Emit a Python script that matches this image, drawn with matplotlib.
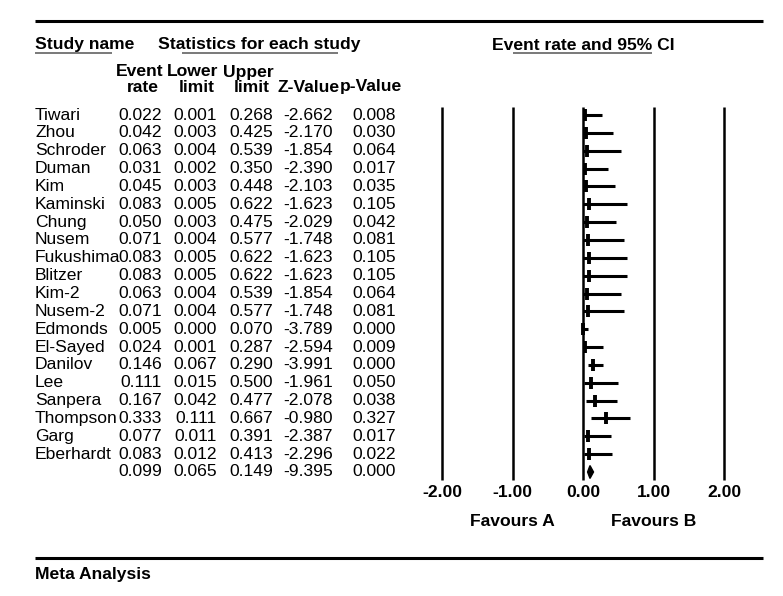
import matplotlib
matplotlib.use("Agg")
import matplotlib.pyplot as plt
from matplotlib.lines import Line2D
from matplotlib.patches import Polygon
from matplotlib.transforms import blended_transform_factory

plt.rcParams['font.family'] = ['Liberation Sans', 'DejaVu Sans']

studies = ["Tiwari", "Zhou", "Schroder", "Duman", "Kim", "Kaminski", "Chung", "Nusem",
           "Fukushima", "Blitzer", "Kim-2", "Nusem-2", "Edmonds", "El-Sayed", "Danilov",
           "Lee", "Sanpera", "Thompson", "Garg", "Eberhardt"]
event_rate = [0.022, 0.042, 0.063, 0.031, 0.045, 0.083, 0.050, 0.071, 0.083, 0.083,
              0.063, 0.071, 0.005, 0.024, 0.146, 0.111, 0.167, 0.333, 0.077, 0.083]
lower = [0.001, 0.003, 0.004, 0.002, 0.003, 0.005, 0.003, 0.004, 0.005, 0.005,
         0.004, 0.004, 0.000, 0.001, 0.067, 0.015, 0.042, 0.111, 0.011, 0.012]
upper = [0.268, 0.425, 0.539, 0.350, 0.448, 0.622, 0.475, 0.577, 0.622, 0.622,
         0.539, 0.577, 0.070, 0.287, 0.290, 0.500, 0.477, 0.667, 0.391, 0.413]
z_value = ["-2.662", "-2.170", "-1.854", "-2.390", "-2.103", "-1.623", "-2.029", "-1.748",
           "-1.623", "-1.623", "-1.854", "-1.748", "-3.789", "-2.594", "-3.991", "-1.961",
           "-2.078", "-0.980", "-2.387", "-2.296"]
p_value = ["0.008", "0.030", "0.064", "0.017", "0.035", "0.105", "0.042", "0.081",
           "0.105", "0.105", "0.064", "0.081", "0.000", "0.009", "0.000", "0.050",
           "0.038", "0.327", "0.017", "0.022"]
summary = {"rate": 0.099, "lower": 0.065, "upper": 0.149, "z": "-9.395", "p": "0.000"}
xticks = [-2, -1, 0, 1, 2]
xticklabels = ["-2.00", "-1.00", "0.00", "1.00", "2.00"]

W, H = 783, 596
fig = plt.figure(figsize=(W / 100, H / 100), dpi=100)
FS = 12.6

def fx(px):
    return px / W

def fy(py):
    return 1 - py / H

# forest axes
unit = 70.5
x0px = 583.0
xl, xr = -2.5, 2.5
ax_left = x0px + xl * unit
ax_w = (xr - xl) * unit
top_px, bot_px = 105, 485
row0, rowstep = 115.0, 17.85
ax = fig.add_axes([fx(ax_left), fy(bot_px), ax_w / W, (bot_px - top_px) / H])
ax.set_xlim(xl, xr)
ax.set_ylim((bot_px - row0) / rowstep, (top_px - row0) / rowstep)
for s in ax.spines.values():
    s.set_visible(False)
ax.set_yticks([])
ax.set_xticks(xticks)
ax.set_xticklabels(xticklabels, fontsize=FS, fontweight='bold')
ax.tick_params(axis='x', length=0, pad=0)

ax.vlines(xticks, (107 - row0) / rowstep, (480 - row0) / rowstep, color='black', lw=1.8)

rows = list(range(len(studies)))
ax.hlines(rows, lower, upper, color='black', lw=2.2)
ax.plot(event_rate, rows, ls='none', marker='|', ms=8.5, mew=2.8, color='black')

srow = len(studies)
dh = 0.36
diamond = Polygon([(summary["lower"], srow), (summary["rate"], srow - dh),
                   (summary["upper"], srow), (summary["rate"], srow + dh)],
                  closed=True, facecolor='black', edgecolor='black', lw=1)
ax.add_patch(diamond)

# table text
tr = blended_transform_factory(fig.transFigure, ax.transData)
col_right = [162, 217, 273, 333, 396]
for i, name in enumerate(studies):
    fig.text(fx(35), i, name, transform=tr, ha='left', va='center', fontsize=FS)
    vals = [f"{event_rate[i]:.3f}", f"{lower[i]:.3f}", f"{upper[i]:.3f}", z_value[i], p_value[i]]
    for cx, v in zip(col_right, vals):
        fig.text(fx(cx), i, v, transform=tr, ha='right', va='center', fontsize=FS)
svals = [f"{summary['rate']:.3f}", f"{summary['lower']:.3f}", f"{summary['upper']:.3f}",
         summary["z"], summary["p"]]
for cx, v in zip(col_right, svals):
    fig.text(fx(cx), srow, v, transform=tr, ha='right', va='center', fontsize=FS)

# headers
fig.text(fx(35), fy(45), "Study name", ha='left', va='center', fontsize=FS, fontweight='bold')
fig.text(fx(158), fy(45), "Statistics for each study", ha='left', va='center', fontsize=FS,
         fontweight='bold')
trx = blended_transform_factory(ax.transData, fig.transFigure)
fig.text(0, fy(45), "Event rate and 95% CI", transform=trx, ha='center', va='center',
         fontsize=FS, fontweight='bold')
fig.text(fx(140), fy(72), "Event", ha='center', va='center', fontsize=FS, fontweight='bold')
fig.text(fx(143), fy(87), "rate", ha='center', va='center', fontsize=FS, fontweight='bold')
fig.text(fx(193), fy(72), "Lower", ha='center', va='center', fontsize=FS, fontweight='bold')
fig.text(fx(197), fy(87), "limit", ha='center', va='center', fontsize=FS, fontweight='bold')
fig.text(fx(248), fy(72), "Upper", ha='center', va='center', fontsize=FS, fontweight='bold')
fig.text(fx(252), fy(87), "limit", ha='center', va='center', fontsize=FS, fontweight='bold')
fig.text(fx(278), fy(87), "Z-Value", ha='left', va='center', fontsize=FS, fontweight='bold')
fig.text(fx(402), fy(87), "p-Value", ha='right', va='center', fontsize=FS, fontweight='bold')

fig.text(-1, fy(521), "Favours A", transform=trx, ha='center', va='center', fontsize=FS,
         fontweight='bold')
fig.text(1, fy(521), "Favours B", transform=trx, ha='center', va='center', fontsize=FS,
         fontweight='bold')
fig.text(fx(35), fy(574), "Meta Analysis", ha='left', va='center', fontsize=FS,
         fontweight='bold')

# rules and underlines
def hline_px(x1, x2, y, lw, color='black'):
    fig.add_artist(Line2D([fx(x1), fx(x2)], [fy(y), fy(y)], transform=fig.transFigure,
                          color=color, lw=lw, solid_capstyle='butt'))

hline_px(35, 763, 21, 2.2)
hline_px(35, 763, 558, 2.2)
hline_px(35, 112, 53, 1.1, '#555555')
hline_px(182, 338, 53, 1.1, '#555555')
hline_px(513, 652, 53, 1.1, '#555555')

fig.savefig("out.png", dpi=100)
